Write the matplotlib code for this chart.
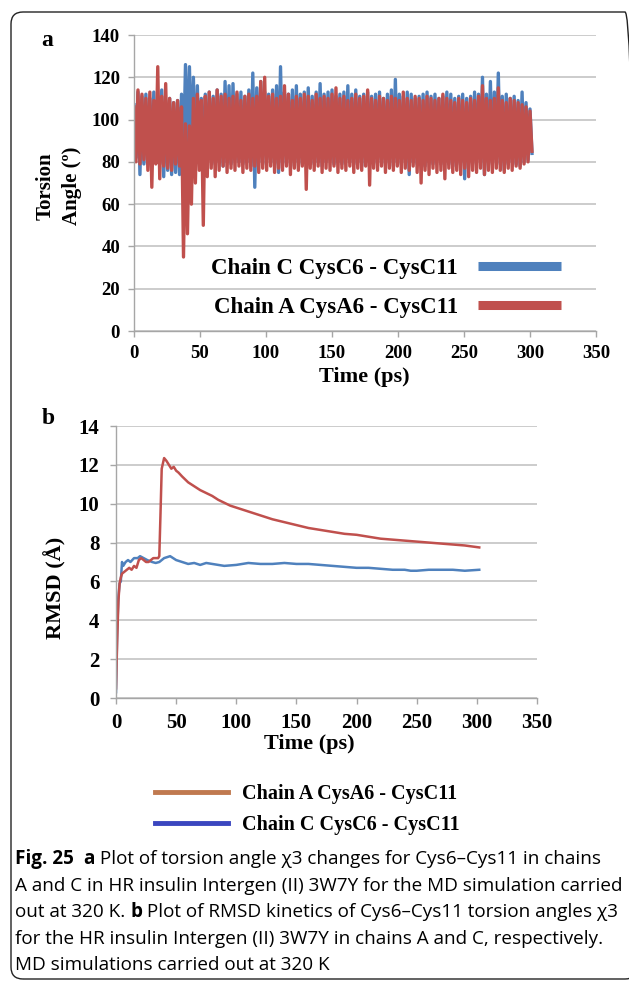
import numpy as np
import matplotlib
matplotlib.use("Agg")
import matplotlib.pyplot as plt
from matplotlib import font_manager
from matplotlib.lines import Line2D
from matplotlib.patches import FancyBboxPatch
from matplotlib.transforms import IdentityTransform

# ---- panel a: torsion angle chi3, sampled every 1.5 ps (peak, trough, peak, ...)
c_hi = [107, 113, 111, 112, 110, 113, 111, 114, 109, 110,
        108, 109, 112, 126, 125, 120, 116, 110, 112, 113,
        111, 114, 112, 118, 116, 117, 112, 113, 111, 114,
        122, 115, 118, 113, 112, 114, 116, 125, 113, 112,
        114, 116, 112, 113, 115, 111, 113, 117, 112, 113,
        114, 111, 112, 113, 116, 112, 114, 111, 112, 113,
        111, 112, 113, 110, 112, 114, 119, 112, 111, 113,
        112, 110, 111, 112, 113, 111, 112, 110, 111, 113,
        112, 110, 111, 112, 110, 111, 113, 112, 120, 112,
        118, 113, 122, 111, 112, 110, 111, 109, 113, 108,
        105]
c_lo = [82, 74, 79, 80, 78, 81, 79, 73, 76, 74,
        75, 74, 80, 84, 83, 78, 80, 79, 80, 81,
        79, 80, 78, 80, 79, 81, 80, 79, 80, 78,
        68, 80, 79, 81, 80, 79, 75, 80, 79, 81,
        78, 80, 79, 81, 80, 79, 80, 78, 80, 81,
        79, 80, 79, 81, 80, 79, 80, 78, 80, 81,
        79, 80, 81, 79, 80, 78, 80, 79, 81, 74,
        80, 79, 80, 78, 80, 79, 81, 79, 80, 79,
        78, 79, 80, 72, 80, 79, 81, 80, 74, 80,
        79, 81, 79, 76, 79, 80, 79, 78, 80, 81,
        84]
a_hi = [106, 114, 112, 110, 113, 109, 125, 111, 117, 110,
        108, 109, 106, 98, 97, 110, 112, 109, 111, 113,
        110, 114, 111, 112, 110, 111, 113, 109, 111, 112,
        110, 111, 118, 120, 111, 112, 110, 111, 116, 112,
        109, 111, 110, 112, 111, 109, 112, 110, 111, 110,
        112, 115, 110, 111, 109, 110, 112, 110, 111, 114,
        110, 109, 111, 110, 109, 111, 110, 109, 113, 110,
        109, 111, 110, 109, 111, 110, 109, 110, 112, 110,
        109, 108, 110, 109, 108, 110, 109, 111, 116, 110,
        109, 110, 115, 109, 108, 110, 109, 108, 107, 106,
        104]
a_lo = [80, 79, 81, 76, 68, 79, 72, 78, 77, 76,
        79, 78, 35, 46, 60, 70, 76, 50, 73, 77,
        73, 76, 78, 75, 77, 76, 78, 75, 77, 76,
        78, 75, 77, 76, 78, 75, 77, 76, 78, 74,
        77, 76, 78, 67, 77, 76, 78, 75, 77, 76,
        78, 75, 77, 76, 78, 75, 77, 76, 78, 69,
        77, 76, 78, 75, 77, 76, 78, 75, 77, 76,
        78, 75, 70, 76, 74, 77, 75, 76, 72, 77,
        75, 76, 74, 77, 73, 76, 75, 77, 74, 76,
        75, 77, 76, 75, 77, 76, 78, 77, 79, 80,
        85]
step_ps = 1.5

# ---- panel b: RMSD kinetics
t_red = [0, 1, 2, 3, 4, 5, 7, 9, 11, 13,
         15, 17, 19, 21, 23, 25, 27, 29, 31, 33,
         35, 36, 37, 38, 40, 42, 44, 46, 48, 50,
         52, 55, 60, 65, 70, 75, 80, 85, 90, 95,
         100, 110, 120, 130, 140, 150, 160, 170, 180, 190,
         200, 210, 220, 230, 240, 250, 260, 270, 280, 290,
         302]
rmsd_red = [0.5, 3.0, 5.0, 5.9, 6.2, 6.4, 6.5, 6.6, 6.7, 6.6,
            6.8, 6.7, 7.1, 7.2, 7.1, 7.0, 7.0, 7.1, 7.2, 7.2,
            7.2, 7.3, 9.5, 11.8, 12.35, 12.2, 12.0, 11.8, 11.9, 11.7,
            11.6, 11.4, 11.1, 10.9, 10.7, 10.55, 10.4, 10.2, 10.05, 9.9,
            9.8, 9.6, 9.4, 9.2, 9.05, 8.9, 8.75, 8.65, 8.55, 8.45,
            8.4, 8.3, 8.2, 8.15, 8.1, 8.05, 8.0, 7.95, 7.9, 7.85,
            7.75]
t_blue = [0, 1, 2, 3, 4, 5, 6, 8, 10, 12,
          15, 18, 20, 23, 26, 30, 33, 36, 40, 45,
          50, 55, 60, 65, 70, 75, 80, 90, 100, 110,
          120, 130, 140, 150, 160, 170, 180, 190, 200, 210,
          220, 230, 240, 245, 250, 260, 270, 280, 290, 302]
rmsd_blue = [0.3, 3.5, 5.2, 5.9, 6.0, 7.0, 6.8, 7.0, 7.1, 7.0,
             7.2, 7.2, 7.3, 7.2, 7.1, 7.0, 6.95, 7.0, 7.2, 7.3,
             7.1, 7.0, 6.9, 6.95, 6.85, 6.95, 6.9, 6.8, 6.85, 6.95,
             6.9, 6.9, 6.95, 6.9, 6.9, 6.85, 6.8, 6.75, 6.7, 6.7,
             6.65, 6.6, 6.6, 6.55, 6.55, 6.6, 6.6, 6.6, 6.55, 6.6]

label_c = "Chain C CysC6 - CysC11"
label_a = "Chain A CysA6 - CysC11"
caption = [
    [("Fig. 25", True), ("\u2002", False), ("a", True), (" Plot of torsion angle \u03c73 changes for Cys6\u2013Cys11 in chains", False)],
    [("A and C in HR insulin Intergen (II) 3W7Y for the MD simulation carried", False)],
    [("out at 320 K. ", False), ("b", True), (" Plot of RMSD kinetics of Cys6\u2013Cys11 torsion angles \u03c73", False)],
    [("for the HR insulin Intergen (II) 3W7Y in chains A and C, respectively.", False)],
    [("MD simulations carried out at 320 K", False)],
]

W, H = 629, 981
SERIF = "Liberation Serif"
BLUE, RED = "#4f81bd", "#c0504d"
GRID = "#c3c3c3"


def interleave(hi, lo):
    n = len(hi)
    t = np.empty(2 * n)
    y = np.empty(2 * n)
    t[0::2] = np.arange(n) * 2 * step_ps
    t[1::2] = np.arange(n) * 2 * step_ps + step_ps
    y[0::2] = hi
    y[1::2] = lo
    return t, y


def box(x0, y0, x1, y1):
    return [x0 / W, 1 - y1 / H, (x1 - x0) / W, (y1 - y0) / H]


def style_axes(ax, size):
    for s in ["top", "right"]:
        ax.spines[s].set_visible(False)
    for s in ["left", "bottom"]:
        ax.spines[s].set_color("#a6a6a6")
        ax.spines[s].set_linewidth(1.0)
    ax.grid(axis="y", color=GRID, linewidth=1.2)
    ax.set_axisbelow(True)
    ax.tick_params(colors="#a6a6a6", length=4, width=1.0, labelcolor="black")
    for lab in ax.get_xticklabels() + ax.get_yticklabels():
        lab.set_fontfamily(SERIF)
        lab.set_fontweight("bold")
        lab.set_fontsize(size)


fig = plt.figure(figsize=(W / 100, H / 100), dpi=100)

# ---------------- panel a
ax1 = fig.add_axes(box(134, 35, 596, 331))
tc, yc = interleave(c_hi, c_lo)
ta, ya = interleave(a_hi, a_lo)
ax1.plot(tc, yc, color=BLUE, linewidth=2.4)
ax1.plot(ta, ya, color=RED, linewidth=2.4)
ax1.set_xlim(0, 350)
ax1.set_ylim(0, 140)
ax1.set_xticks(range(0, 351, 50))
ax1.set_yticks(range(0, 141, 20))
ax1.tick_params(axis="x", pad=6)
ax1.tick_params(axis="y", pad=6)
style_axes(ax1, 13.5)
handles = [Line2D([], [], color=BLUE, linewidth=6.5, solid_capstyle="butt"),
           Line2D([], [], color=RED, linewidth=6.5, solid_capstyle="butt")]
leg = ax1.legend(handles, [label_c, label_a], markerfirst=False, frameon=False,
                 loc="center", bbox_to_anchor=(386 / W, 1 - 288 / H),
                 bbox_transform=fig.transFigure, handlelength=3.6,
                 handletextpad=0.9, labelspacing=0.75, borderpad=0,
                 prop={"family": SERIF, "weight": "bold", "size": 16.5})

fig.text(47 / W, 1 - 40 / H, "a", family=SERIF, weight="bold", fontsize=17,
         ha="center", va="center")
fig.text(59 / W, 1 - 186 / H, "Torsion\nAngle (\u00ba)", family=SERIF, weight="bold",
         fontsize=15, rotation=90, ha="center", va="center", multialignment="center",
         linespacing=1.45)
fig.text(364 / W, 1 - 377 / H, "Time (ps)", family=SERIF, weight="bold", fontsize=16,
         ha="center", va="center")

# ---------------- panel b
ax2 = fig.add_axes(box(116, 426, 537, 698))
ax2.plot(t_blue, rmsd_blue, color=BLUE, linewidth=1.8)
ax2.plot(t_red, rmsd_red, color=RED, linewidth=1.8)
ax2.set_xlim(0, 350)
ax2.set_ylim(0, 14)
ax2.set_xticks(range(0, 351, 50))
ax2.set_yticks(range(0, 15, 2))
ax2.tick_params(axis="x", pad=7)
ax2.tick_params(axis="y", pad=8)
style_axes(ax2, 15)

fig.text(48 / W, 1 - 419 / H, "b", family=SERIF, weight="bold", fontsize=17,
         ha="center", va="center")
fig.text(55 / W, 1 - 588 / H, "RMSD (\u00c5)", family=SERIF, weight="bold", fontsize=16,
         rotation=90, ha="center", va="center")
fig.text(309 / W, 1 - 744 / H, "Time (ps)", family=SERIF, weight="bold", fontsize=16,
         ha="center", va="center")

hb = [Line2D([], [], color="#c0794f", linewidth=3.5),
      Line2D([], [], color="#3a46bf", linewidth=3.5)]
fig.legend(hb, [label_a, label_c], frameon=False, loc="upper left",
           bbox_to_anchor=(155 / W, 1 - 784 / H), handlelength=3.6,
           handletextpad=0.7, labelspacing=0.55, borderpad=0, borderaxespad=0,
           prop={"family": SERIF, "weight": "bold", "size": 14.5})

# ---------------- caption
names = {f.name for f in font_manager.fontManager.ttflist}
cap_font = "Liberation Sans Narrow" if "Liberation Sans Narrow" in names else "Open Sans"
renderer = fig.canvas.get_renderer()


def text_width(s, size, bold):
    t = fig.text(0, 0, s, fontsize=size, family=cap_font,
                 fontweight="bold" if bold else "normal")
    w = t.get_window_extent(renderer).width
    t.remove()
    return w


cap_size = 12 * 605 / text_width(caption[1][0][0], 12, False)
for i, runs in enumerate(caption):
    x = 15
    y = 864 + i * 26.6
    for s, bold in runs:
        fig.text(x / W, 1 - y / H, s, fontsize=cap_size, family=cap_font,
                 fontweight="bold" if bold else "normal", va="baseline")
        # measure with a sentinel so trailing spaces are counted
        x += text_width(s + "|", cap_size, bold) - text_width("|", cap_size, bold)

frame = FancyBboxPatch((11, 2), 626, 967, boxstyle="round,pad=0,rounding_size=12",
                       facecolor="none", edgecolor="#222222", linewidth=1.0,
                       transform=IdentityTransform())
fig.add_artist(frame)

fig.savefig("out.png", dpi=100)
